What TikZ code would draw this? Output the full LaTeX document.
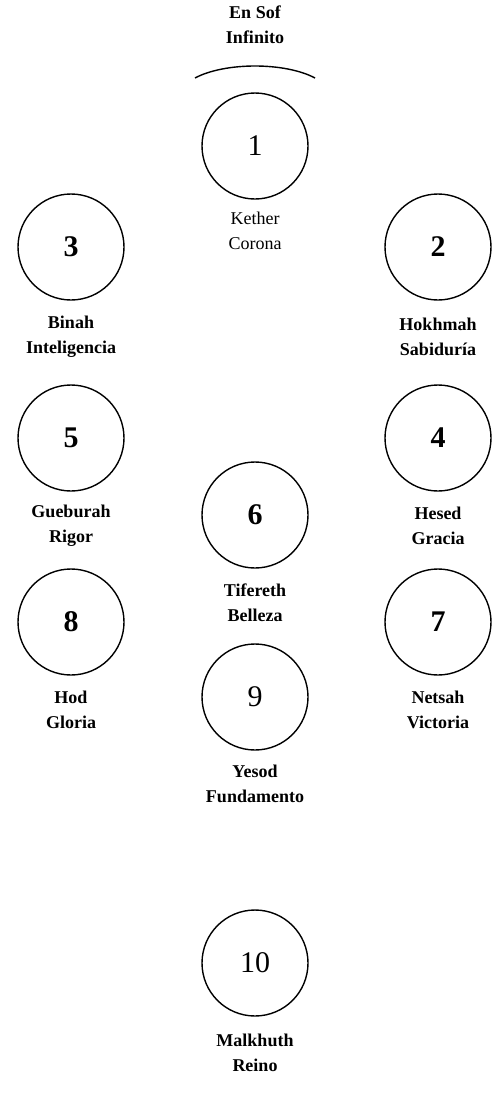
\documentclass[tikz,border=0pt]{standalone}
\usepackage{fontspec}
\setmainfont{Liberation Serif}
\begin{document}
\begin{tikzpicture}[x=1pt,y=-1pt,
  sef/.style={circle,draw,line width=1.4pt,minimum size=106pt,inner sep=0pt,font=\fontsize{30}{30}\selectfont\bfseries},
  sefl/.style={circle,draw,line width=1.4pt,minimum size=106pt,inner sep=0pt,font=\fontsize{30}{30}\selectfont},
  lab/.style={align=center,font=\fontsize{18}{25}\selectfont\bfseries},
  labl/.style={align=center,font=\fontsize{18}{25}\selectfont}]
\useasboundingbox (0,0) rectangle (491,1106);
\node[sefl] (s1) at (255,146) {1};
\node[sef] (s2) at (438,247) {2};
\node[sef] (s3) at (71,247) {3};
\node[sef] (s4) at (438,438) {4};
\node[sef] (s5) at (71,438) {5};
\node[sef] (s6) at (255,515) {6};
\node[sef] (s7) at (438,622) {7};
\node[sef] (s8) at (71,622) {8};
\node[sefl] (s9) at (255,697) {9};
\node[sefl] (s10) at (255,963) {10};
\node[lab] (t0) at (255,25) {En Sof\\Infinito};
\coordinate (a1) at (195,78);
\coordinate (a2) at (315,78);
\draw[line width=1.4pt] (a1) .. controls (225,62) and (285,62) .. (a2);
\node[labl] (t1) at (255,231) {Kether\\Corona};
\node[lab] (t2) at (438,337) {Hokhmah\\Sabiduría};
\node[lab] (t3) at (71,337) {Binah\\Inteligencia};
\node[lab] (t4) at (438,526) {Hesed\\Gracia};
\node[lab] (t5) at (71,526) {Gueburah\\Rigor};
\node[lab] (t6) at (255,603) {Tifereth\\Belleza};
\node[lab] (t7) at (438,710) {Netsah\\Victoria};
\node[lab] (t8) at (71,710) {Hod\\Gloria};
\node[lab] (t9) at (255,784) {Yesod\\Fundamento};
\node[lab] (t10) at (255,1053) {Malkhuth\\Reino};
\end{tikzpicture}
\end{document}
